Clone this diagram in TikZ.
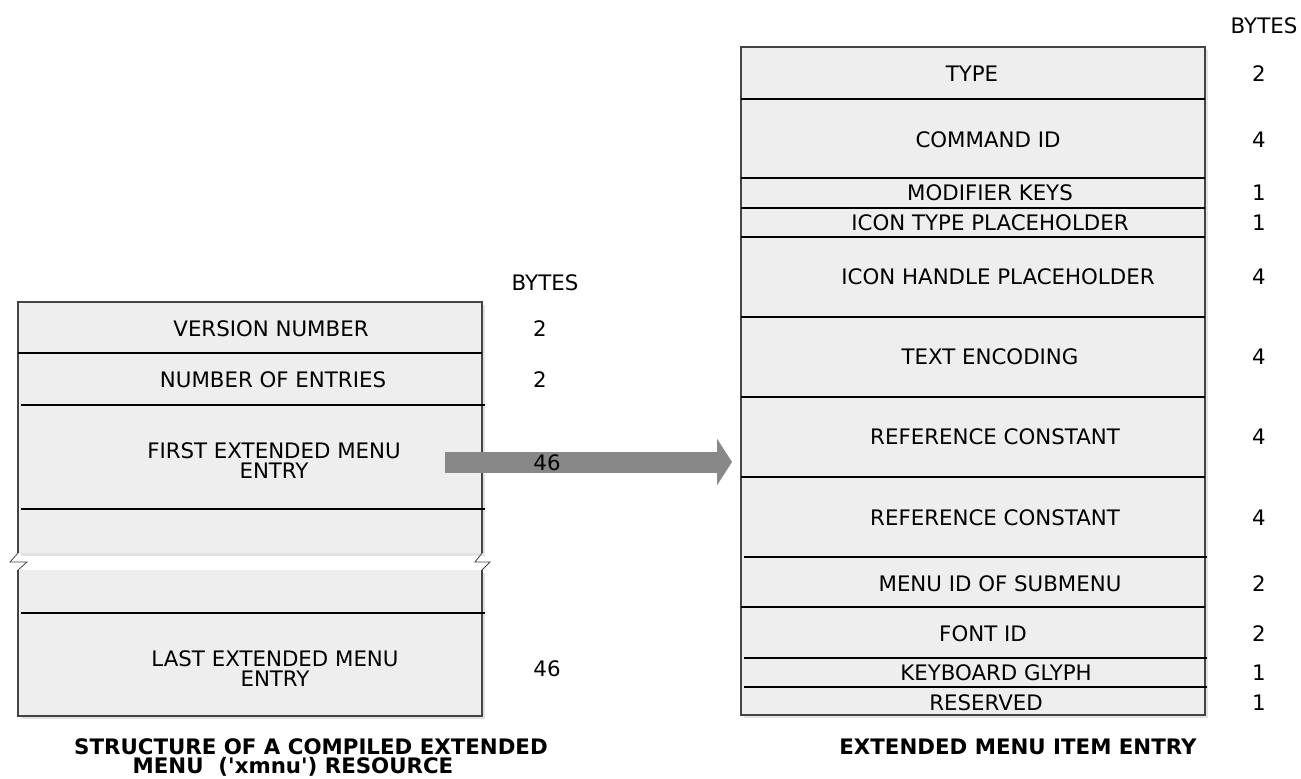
\documentclass[tikz,border=0pt]{standalone}
\usepackage{fontspec}
\setmainfont{DejaVu Sans}
\usetikzlibrary{arrows.meta}
\definecolor{cellfill}{HTML}{EEEEEE}
\definecolor{edgegray}{HTML}{444444}
\definecolor{shadowgray}{HTML}{E2E2E2}
\definecolor{arrowgray}{HTML}{888888}
\begin{document}
\begin{tikzpicture}[x=0.75pt,y=-0.75pt,
  lbl/.style={font=\fontsize{16}{15}\selectfont, inner sep=0pt, align=center, anchor=center},
  captiontext/.style={font=\fontsize{16}{14}\selectfont\bfseries, inner sep=0pt, anchor=base},
  divider/.style={line width=2.2pt, black},
  outline/.style={draw=edgegray, line width=0.9pt},
  breakmark/.style={draw=edgegray, line width=0.6pt, line join=miter},
  bigarrow/.style={draw=arrowgray, line width=15.75pt,
    -{Triangle[length=11.25pt, width=34.5pt]}}]
\useasboundingbox (0,0) rectangle (1301,778);

% ---------- compiled resource (left) ----------
\fill[shadowgray] (21,305) rectangle (485,556);
\fill[shadowgray] (21,573) rectangle (485,719);
\fill[cellfill] (18,302) rectangle (482,553);
\fill[cellfill] (18,570) rectangle (482,716);
\draw[outline] (18,553) -- (18,302) -- (482,302) -- (482,553);
\draw[outline] (18,570) -- (18,716) -- (482,716) -- (482,570);
% break in the middle of the entry list
\draw[breakmark] (18,553) -- (10,562) -- (27,562) -- (18,570);
\draw[breakmark] (482,553) -- (475,562) -- (490,562) -- (482,570);
% field separators
\draw[divider] (18,353) -- (482,353);
\draw[divider] (21,405) -- (485,405);
\draw[divider] (21,509) -- (485,509);
\draw[divider] (21,613) -- (485,613);

\node[lbl] (lhead) at (545,283) {BYTES};
\node[lbl] (version) at (271,329) {VERSION NUMBER};
\node[lbl] (nentries) at (273,380) {NUMBER OF ENTRIES};
\node[lbl] (firstentry) at (274,461) {FIRST EXTENDED MENU\\ENTRY};
\node[lbl] (lastentry) at (275,669) {LAST EXTENDED MENU\\ENTRY};
\node[lbl] (bversion) at (540,329) {2};
\node[lbl] (bnentries) at (540,380) {2};
\node[lbl] (blastentry) at (547,669) {46};

% ---------- expansion arrow ----------
\coordinate (arrowstart) at (445,462);
\coordinate (arrowtip) at (732,462);
\draw[bigarrow] (arrowstart) -- (arrowtip);
\node[lbl] (bfirstentry) at (547,463) {46};

% ---------- menu item entry (right) ----------
\fill[shadowgray] (744,50) rectangle (1208,718);
\fill[cellfill] (741,47) rectangle (1205,715);
\draw[outline] (741,47) rectangle (1205,715);
\foreach \yy in {99,178,208,237,317,397,477,607}
  \draw[divider] (741,\yy) -- (1205,\yy);
\foreach \yy in {557,658,687}
  \draw[divider] (744,\yy) -- (1207,\yy);

\node[lbl] (rhead) at (1264,26) {BYTES};
\node[lbl] (ftype) at (972,74) {TYPE};
\node[lbl] (fcmd) at (988,140) {COMMAND ID};
\node[lbl] (fmod) at (990,193) {MODIFIER KEYS};
\node[lbl] (ficontype) at (990,223) {ICON TYPE PLACEHOLDER};
\node[lbl] (ficonhandle) at (998,277) {ICON HANDLE PLACEHOLDER};
\node[lbl] (fenc) at (990,357) {TEXT ENCODING};
\node[lbl] (fref1) at (995,437) {REFERENCE CONSTANT};
\node[lbl] (fref2) at (995,518) {REFERENCE CONSTANT};
\node[lbl] (fsub) at (1000,584) {MENU ID OF SUBMENU};
\node[lbl] (ffont) at (983,634) {FONT ID};
\node[lbl] (fglyph) at (996,673) {KEYBOARD GLYPH};
\node[lbl] (fres) at (986,703) {RESERVED};

\foreach \nm/\yy/\val in {btype/74/2, bcmd/140/4, bmod/193/1, bicontype/223/1,
    biconhandle/277/4, benc/357/4, bref1/437/4, bref2/518/4,
    bsub/584/2, bfont/634/2, bglyph/673/1, bres/703/1}
  \node[lbl] (\nm) at (1259,\yy) {\val};

% ---------- captions ----------
\node[captiontext] (lcap1) at (311,754) {STRUCTURE OF A COMPILED EXTENDED};
\node[captiontext] (lcap2) at (293,773) {MENU\ \ (\textquotesingle xmnu\textquotesingle) RESOURCE};
\node[captiontext] (rcap) at (1018,754) {EXTENDED MENU ITEM ENTRY};
\end{tikzpicture}
\end{document}
